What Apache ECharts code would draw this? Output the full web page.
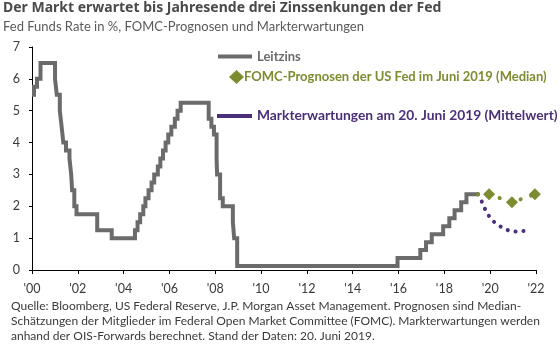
<!DOCTYPE html>
<html>
<head>
<meta charset="utf-8">
<script src="https://cdn.jsdelivr.net/npm/echarts@6/dist/echarts.min.js"></script>
<style>
    html, body { margin: 0; padding: 0; background: #fff; }
    #chart { width: 560px; height: 352px; }
</style>
</head>
<body>
<div id="chart"></div>
<script>
// Leitzins: Zinsaenderungen (Datum, Satz in %), ab 2009 Mitte der Zielspanne
var rateDates = ['2000-01-01', '2000-02-02', '2000-03-21', '2000-05-16',
    '2001-01-03', '2001-01-31', '2001-03-20', '2001-04-18', '2001-05-15', '2001-06-27',
    '2001-08-21', '2001-09-17', '2001-10-02', '2001-11-06', '2001-12-11',
    '2002-11-06', '2003-06-25',
    '2004-06-30', '2004-08-10', '2004-09-21', '2004-11-10', '2004-12-14',
    '2005-02-02', '2005-03-22', '2005-05-03', '2005-06-30', '2005-08-09', '2005-09-20',
    '2005-11-01', '2005-12-13', '2006-01-31', '2006-03-28', '2006-05-10', '2006-06-29',
    '2007-09-18', '2007-10-31', '2007-12-11', '2008-01-22', '2008-01-30', '2008-03-18',
    '2008-04-30', '2008-10-08', '2008-10-29', '2008-12-16',
    '2015-12-16', '2016-12-14', '2017-03-15', '2017-06-14', '2017-12-13',
    '2018-03-21', '2018-06-13', '2018-09-26', '2018-12-19', '2019-06-20'];
var rateValues = [5.5, 5.75, 6.0, 6.5,
    6.0, 5.5, 5.0, 4.5, 4.0, 3.75,
    3.5, 3.0, 2.5, 2.0, 1.75,
    1.25, 1.0,
    1.25, 1.5, 1.75, 2.0, 2.25,
    2.5, 2.75, 3.0, 3.25, 3.5, 3.75,
    4.0, 4.25, 4.5, 4.75, 5.0, 5.25,
    4.75, 4.5, 4.25, 3.5, 3.0, 2.25,
    2.0, 1.5, 1.0, 0.125,
    0.375, 0.625, 0.875, 1.125, 1.375,
    1.625, 1.875, 2.125, 2.375, 2.375];

// FOMC-Prognosen (Median), erster Punkt = aktueller Stand
var fomcYears = [2019.47, 2019.95, 2020.95, 2021.95];
var fomcValues = [2.375, 2.375, 2.125, 2.375];

// Markterwartungen (OIS-Forwards)
var marketYears = [2019.47, 2019.6, 2019.75, 2019.9, 2020.1, 2020.4, 2020.7, 2021.05, 2021.4, 2021.75];
var marketValues = [2.375, 2.2, 1.95, 1.75, 1.56, 1.39, 1.27, 1.21, 1.22, 1.27];

var yTicks = [0, 1, 2, 3, 4, 5, 6, 7];
var xTickYears = [2000, 2002, 2004, 2006, 2008, 2010, 2012, 2014, 2016, 2018, 2020, 2022];

var names = ['Leitzins',
    'FOMC-Prognosen der US Fed im Juni 2019 (Median)',
    'Markterwartungen am 20. Juni 2019 (Mittelwert)'];

var grayColor = '#6b6b6b';
var greenColor = '#7f8b30';
var purpleColor = '#4b2f78';
var fontName = 'Lato';

function toYear(str) {
    var p = str.split('-');
    var y = +p[0];
    var start = Date.UTC(y, 0, 1);
    var end = Date.UTC(y + 1, 0, 1);
    return y + (Date.UTC(y, +p[1] - 1, +p[2]) - start) / (end - start);
}

function pairs(xs, ys) {
    return xs.map(function (x, i) { return [x, ys[i]]; });
}

var rateData = pairs(rateDates.map(toYear), rateValues);
var fomcData = pairs(fomcYears, fomcValues).map(function (p, i) {
    return i === 0 ? { value: p, symbol: 'none' } : { value: p };
});
var marketData = pairs(marketYears, marketValues);

var chart = echarts.init(document.getElementById('chart'));
chart.setOption({
    animation: false,
    textStyle: { fontFamily: fontName },
    title: {
        text: 'Der Markt erwartet bis Jahresende drei Zinssenkungen der Fed',
        subtext: 'Fed Funds Rate in %, FOMC-Prognosen und Markterwartungen',
        left: 3,
        top: 0,
        padding: 0,
        itemGap: 3,
        textStyle: { fontFamily: 'Noto Sans', fontSize: 14, fontWeight: 'bold', color: '#4a4a4a', lineHeight: 17 },
        subtextStyle: { fontFamily: fontName, fontSize: 13, color: '#5a5a5a' }
    },
    legend: [{
        data: [{ name: names[0], icon: 'rect' }],
        left: 218, top: 50, padding: 0,
        itemWidth: 34, itemHeight: 4,
        selectedMode: false,
        textStyle: { fontFamily: fontName, fontSize: 13, fontWeight: 'bold', color: grayColor }
    }, {
        data: [{ name: names[1], icon: 'diamond' }],
        left: 229, top: 70, padding: 0,
        itemWidth: 15, itemHeight: 14,
        selectedMode: false,
        textStyle: { fontFamily: fontName, fontSize: 13, fontWeight: 'bold', color: greenColor, padding: [0, 0, 0, -5] }
    }, {
        data: [{ name: names[2], icon: 'rect' }],
        left: 217, top: 109, padding: 0,
        itemWidth: 35, itemHeight: 4,
        selectedMode: false,
        textStyle: { fontFamily: fontName, fontSize: 13.8, fontWeight: 'bold', color: purpleColor }
    }],
    grid: { left: 32, right: 24, top: 47, bottom: 82, containLabel: false },
    xAxis: {
        type: 'value',
        min: xTickYears[0],
        max: xTickYears[xTickYears.length - 1],
        interval: 2,
        axisLine: { lineStyle: { color: '#000', width: 1 } },
        axisTick: { show: true, length: 4, lineStyle: { color: '#000' } },
        splitLine: { show: false },
        axisLabel: {
            margin: 12,
            fontFamily: fontName,
            fontSize: 12.5,
            color: '#3a3a3a',
            formatter: function (v) { return "'" + String(v).slice(2); }
        }
    },
    yAxis: {
        type: 'value',
        min: yTicks[0],
        max: yTicks[yTicks.length - 1],
        interval: 1,
        axisLine: { show: true, lineStyle: { color: '#000', width: 1 } },
        axisTick: { show: true, length: 3, lineStyle: { color: '#000' } },
        splitLine: { show: false },
        axisLabel: { margin: 12, fontFamily: fontName, fontSize: 12.5, color: '#3a3a3a' }
    },
    series: [{
        name: names[0],
        type: 'line',
        step: 'end',
        data: rateData,
        showSymbol: false,
        symbol: 'none',
        itemStyle: { color: grayColor },
        lineStyle: { color: grayColor, width: 4, join: 'miter' },
        z: 3
    }, {
        name: names[1],
        type: 'line',
        data: fomcData,
        symbol: 'diamond',
        symbolSize: 12,
        itemStyle: { color: greenColor },
        lineStyle: { color: greenColor, width: 4, type: [0.1, 11], cap: 'round' },
        z: 4
    }, {
        name: names[2],
        type: 'line',
        data: marketData,
        smooth: true,
        showSymbol: false,
        symbol: 'none',
        itemStyle: { color: purpleColor },
        lineStyle: { color: purpleColor, width: 4, type: [0.1, 7.9], cap: 'round' },
        z: 2
    }],
    graphic: [{
        type: 'text',
        left: 11,
        top: 299,
        style: {
            text: 'Quelle: Bloomberg, US Federal Reserve, J.P. Morgan Asset Management. Prognosen sind Median-\n' +
                'Schätzungen der Mitglieder im Federal Open Market Committee (FOMC). Markterwartungen werden\n' +
                'anhand der OIS-Forwards berechnet. Stand der Daten: 20. Juni 2019.',
            font: '12px ' + fontName,
            lineHeight: 15,
            fill: '#3a3a3a'
        }
    }]
});
</script>
</body>
</html>
